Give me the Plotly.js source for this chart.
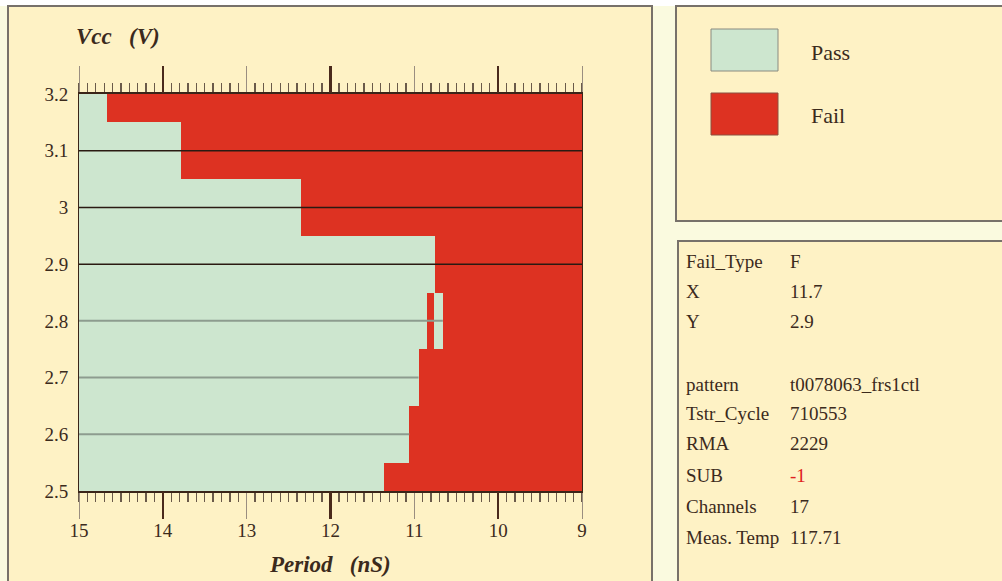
<!DOCTYPE html>
<html>
<head>
<meta charset="utf-8">
<script src="https://cdn.plot.ly/plotly-3.0.1.min.js"></script>
<style>
html,body{margin:0;padding:0;background:#fafadf;}
#chart{width:1002px;height:581px;}
</style>
</head>
<body>
<div id="chart"></div>
<script>
// ---- data ----
const vccRows = [3.2, 3.1, 3.0, 2.9, 2.8, 2.7, 2.6, 2.5];
const passEdge = [14.67, 13.78, 12.35, 10.75, 10.85, 10.95, 11.06, 11.36];
// extra pass island in row 2.8
const islandRow = [2.8];
const islandFrom = [10.76];
const islandTo = [10.66];
const periodStart = 15;
const periodEnd = 9;
const xTicks = [15, 14, 13, 12, 11, 10, 9];
const xBoldTicks = [14, 12, 10];
const yTicks = [2.5, 2.6, 2.7, 2.8, 2.9, 3.0, 3.1, 3.2];
const darkGridY = [3.1, 3.0, 2.9];
const lightGridY = [2.8, 2.7, 2.6];
const lightGridEnd = [10.66, 10.95, 11.06];
const legendNames = ["Pass", "Fail"];
const infoLabels = ["Fail_Type", "X", "Y", "", "pattern", "Tstr_Cycle", "RMA", "SUB", "Channels", "Meas. Temp"];
const infoValues = ["F", "11.7", "2.9", "", "t0078063_frs1ctl", "710553", "2229", "-1", "17", "117.71"];

// ---- style ----
const PASS = '#cde6cf', FAIL = '#dd3222', PANEL = '#fef2c5', INK = '#3b2a1c';
const SERIF = '"Liberation Serif", "DejaVu Serif", serif';
const L = 79, R = 582, T = 94, B = 491, W = 1002, H = 581;
const px = x => (x - L) / (R - L);
const py = y => (B - y) / (B - T);

// pass segments
const passY = vccRows.concat(islandRow);
const passBase = vccRows.map(() => periodStart).concat(islandFrom);
const passLen = passEdge.map(e => e - periodStart).concat(islandTo.map((t, i) => t - islandFrom[i]));
// fail segments
const failY = vccRows.slice();
const failBase = [];
const failLen = [];
vccRows.forEach((r, i) => {
  failBase.push(passEdge[i]);
  failLen.push((r === islandRow[0] ? islandFrom[0] : periodEnd) - passEdge[i]);
});
failY.push(islandRow[0]); failBase.push(islandTo[0]); failLen.push(periodEnd - islandTo[0]);

const traces = [
  {type: 'bar', orientation: 'h', y: passY, x: passLen, base: passBase, width: 0.1,
   marker: {color: PASS, line: {width: 0}}, name: legendNames[0], hoverinfo: 'skip', showlegend: false},
  {type: 'bar', orientation: 'h', y: failY, x: failLen, base: failBase, width: 0.1,
   marker: {color: FAIL, line: {width: 0}}, name: legendNames[1], hoverinfo: 'skip', showlegend: false}
];
// grid lines drawn on top of the bars
const dgx = [], dgy = [];
darkGridY.forEach(y => { dgx.push(periodStart, periodEnd, null); dgy.push(y, y, null); });
const lgx = [], lgy = [];
lightGridY.forEach((y, i) => { lgx.push(periodStart, lightGridEnd[i], null); lgy.push(y, y, null); });
traces.push({type: 'scatter', mode: 'lines', x: dgx, y: dgy, line: {color: '#2a1a12', width: 1.5}, hoverinfo: 'skip', showlegend: false});
traces.push({type: 'scatter', mode: 'lines', x: lgx, y: lgy, line: {color: '#8d9c8f', width: 2}, hoverinfo: 'skip', showlegend: false});
// carrier trace for the overlay axis with the heavy major ticks
traces.push({type: 'scatter', mode: 'lines', x: [periodStart, periodEnd], y: [2.5, 2.5], xaxis: 'x2', yaxis: 'y',
  line: {width: 0, color: 'rgba(0,0,0,0)'}, hoverinfo: 'skip', showlegend: false});

const shapes = [
  {type: 'rect', xref: 'paper', yref: 'paper', x0: px(0), x1: px(W), y0: py(0), y1: py(6), fillcolor: '#ffffff', line: {width: 0}, layer: 'below'},
  {type: 'rect', xref: 'paper', yref: 'paper', x0: px(8), x1: px(652), y0: py(6), y1: py(H + 4), fillcolor: PANEL, line: {color: '#77716a', width: 2}, layer: 'below'},
  {type: 'rect', xref: 'paper', yref: 'paper', x0: px(676), x1: px(W + 4), y0: py(6), y1: py(221), fillcolor: PANEL, line: {color: '#77716a', width: 2}, layer: 'below'},
  {type: 'rect', xref: 'paper', yref: 'paper', x0: px(678), x1: px(W + 4), y0: py(241), y1: py(H + 4), fillcolor: PANEL, line: {color: '#77716a', width: 2}, layer: 'below'},
  {type: 'rect', xref: 'paper', yref: 'paper', x0: px(711), x1: px(778), y0: py(29), y1: py(71), fillcolor: PASS, line: {color: '#8a8a80', width: 1}},
  {type: 'rect', xref: 'paper', yref: 'paper', x0: px(711), x1: px(778), y0: py(93), y1: py(135), fillcolor: FAIL, line: {color: '#8a5040', width: 1}}
];

const annotations = [
  {xref: 'paper', yref: 'paper', x: px(118), y: py(37), text: '<b><i>Vcc   (V)</i></b>', showarrow: false,
   font: {family: SERIF, size: 23, color: INK}, xanchor: 'center', yanchor: 'middle'},
  {xref: 'paper', yref: 'paper', x: px(330), y: py(564), text: '<b><i>Period   (nS)</i></b>', showarrow: false,
   font: {family: SERIF, size: 23, color: INK}, xanchor: 'center', yanchor: 'middle'},
  {xref: 'paper', yref: 'paper', x: px(809), y: py(52), text: legendNames[0], showarrow: false,
   font: {family: SERIF, size: 22, color: INK}, xanchor: 'left', yanchor: 'middle'},
  {xref: 'paper', yref: 'paper', x: px(809), y: py(116), text: legendNames[1], showarrow: false,
   font: {family: SERIF, size: 22, color: INK}, xanchor: 'left', yanchor: 'middle'}
];
const infoRowY = [261, 291, 321, 352, 384, 413, 443, 475, 506, 537];
infoLabels.forEach((lab, i) => {
  if (!lab) return;
  annotations.push({xref: 'paper', yref: 'paper', x: px(684), y: py(infoRowY[i]), text: lab, showarrow: false,
    font: {family: SERIF, size: 19, color: INK}, xanchor: 'left', yanchor: 'middle'});
  annotations.push({xref: 'paper', yref: 'paper', x: px(788), y: py(infoRowY[i]), text: infoValues[i], showarrow: false,
    font: {family: SERIF, size: 19, color: lab === 'SUB' ? '#e02020' : INK}, xanchor: 'left', yanchor: 'middle'});
});

const layout = {
  width: W, height: H,
  margin: {l: L, r: W - R, t: T, b: H - B, pad: 0},
  paper_bgcolor: '#fafadf',
  plot_bgcolor: 'rgba(0,0,0,0)',
  barmode: 'overlay', bargap: 0,
  showlegend: false,
  xaxis: {
    range: [periodStart, periodEnd], tickvals: xTicks, ticktext: xTicks.map(String),
    ticks: 'outside', ticklen: 26, tickwidth: 1, tickcolor: '#9a8e80',
    minor: {dtick: 0.1, ticks: 'outside', ticklen: 9, tickwidth: 1.3, tickcolor: '#6a5a4a', showgrid: false},
    showline: true, linecolor: '#3a2418', linewidth: 2, mirror: 'allticks',
    showgrid: false, zeroline: false,
    tickfont: {family: SERIF, size: 19, color: INK}, ticklabelstandoff: -5
  },
  xaxis2: {
    overlaying: 'x', side: 'bottom', anchor: 'y',
    range: [periodStart, periodEnd], tickvals: xBoldTicks, showticklabels: false,
    ticks: 'outside', ticklen: 27, tickwidth: 2.5, tickcolor: '#4a2a1c',
    showline: false, mirror: 'allticks', showgrid: false, zeroline: false
  },
  yaxis: {
    range: [2.5, 3.2], tickvals: yTicks, ticktext: yTicks.map(v => String(+v.toFixed(1))),
    ticks: '', showline: true, linecolor: '#3a2418', linewidth: 1, mirror: true,
    showgrid: false, zeroline: false,
    tickfont: {family: SERIF, size: 19, color: INK}, ticklabelstandoff: 6
  },
  shapes: shapes,
  annotations: annotations
};

Plotly.newPlot('chart', traces, layout, {displayModeBar: false, staticPlot: true});
</script>
</body>
</html>
